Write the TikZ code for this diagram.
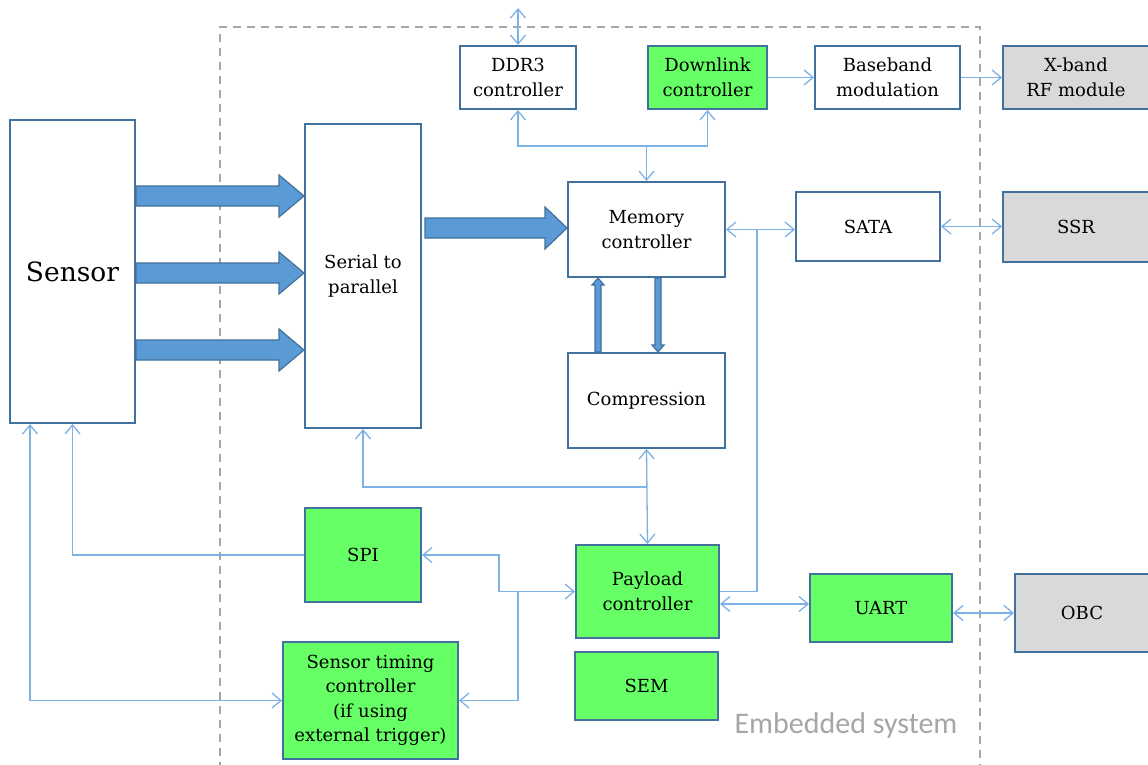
\documentclass[tikz,border=0pt]{standalone}
\usepackage{fontspec}
\setmainfont{DejaVu Serif}
\newfontfamily\labelfont{Carlito}
\usetikzlibrary{arrows.meta,calc}
\definecolor{boxblue}{HTML}{41719C}
\definecolor{linkblue}{HTML}{7EB2E4}
\definecolor{fatfill}{HTML}{5B9BD5}
\definecolor{greenbox}{HTML}{66FF66}
\definecolor{greybox}{HTML}{D9D9D9}
\definecolor{dashgrey}{HTML}{A6A6A6}
\tikzset{
  blk/.style={draw=boxblue, line width=2pt, fill=white, align=center, inner sep=2pt,
    font=\fontsize{18}{24.5}\selectfont},
  grn/.style={blk, fill=greenbox},
  gry/.style={blk, fill=greybox},
  conn/.style={draw=linkblue, line width=1.3pt},
  >={Straight Barb[length=9pt,width=15pt]},
  fatarr/.style={fill=fatfill, draw=boxblue, line width=1.2pt, line join=miter},
}
% horizontal block arrow: start, end, shaft half, head half, head length
\newcommand\fatH[5]{\draw[fatarr] ($(#1)+(0,-#3)$) -- ($(#2)+(-#5,-#3)$) -- ($(#2)+(-#5,-#4)$) -- (#2) -- ($(#2)+(-#5,#4)$) -- ($(#2)+(-#5,#3)$) -- ($(#1)+(0,#3)$) -- cycle;}
% vertical block arrow: start, end, shaft half, head half, signed head length
\newcommand\fatV[5]{\draw[fatarr] ($(#1)+(-#3,0)$) -- ($(#2)+(-#3,#5)$) -- ($(#2)+(-#4,#5)$) -- (#2) -- ($(#2)+(#4,#5)$) -- ($(#2)+(#3,#5)$) -- ($(#1)+(#3,0)$) -- cycle;}
\begin{document}
\begin{tikzpicture}[x=1pt,y=-1pt]
\useasboundingbox[fill=white] (0,0) rectangle (1148,765);
% embedded system frame
\draw[dashgrey, line width=2pt, dash pattern=on 8pt off 6pt] (220,770) -- (220,27) -- (980,27) -- (980,770);
\node[font=\labelfont\fontsize{30}{34}\selectfont, text=dashgrey] (emb) at (846,725) {Embedded system};

% nodes
\node[blk, minimum width=125pt, minimum height=303pt, font=\fontsize{26.5}{30}\selectfont] (sens) at (72.5,271.5) {Sensor};
\node[blk, minimum width=116pt, minimum height=304pt] (stp) at (363,276) {Serial to\\parallel};
\node[blk, minimum width=157pt, minimum height=95pt] (mc) at (646.5,229.5) {Memory\\controller};
\node[blk, minimum width=157pt, minimum height=95pt] (comp) at (646.5,400.5) {Compression};
\node[blk, minimum width=116pt, minimum height=63pt] (ddr) at (518,77.5) {DDR3\\controller};
\node[grn, minimum width=119pt, minimum height=63pt] (dl) at (707.5,77.5) {Downlink\\controller};
\node[blk, minimum width=145pt, minimum height=63pt] (bb) at (887.5,77.5) {Baseband\\modulation};
\node[gry, minimum width=146pt, minimum height=63pt] (xb) at (1076,77.5) {X-band\\RF module};
\node[blk, minimum width=144pt, minimum height=69pt] (sata) at (868,226.5) {SATA};
\node[gry, minimum width=146pt, minimum height=70pt] (ssr) at (1076,227) {SSR};
\node[grn, minimum width=116pt, minimum height=94pt] (spi) at (363,555) {SPI};
\node[grn, minimum width=143pt, minimum height=93pt] (pc) at (647.5,591.5) {Payload\\controller};
\node[grn, minimum width=142pt, minimum height=68pt] (uart) at (881,608) {UART};
\node[gry, minimum width=134pt, minimum height=78pt] (obc) at (1082,613) {OBC};
\node[grn, minimum width=143pt, minimum height=68pt] (sem) at (646.5,686) {SEM};
\node[grn, minimum width=175pt, minimum height=117pt] (stc) at (370.5,700.5) {Sensor timing\\controller\\(if using\\external trigger)};

% block arrows
\coordinate (a1s) at (sens.east|-0,196); \coordinate (a1e) at (stp.west|-0,196);
\coordinate (a2s) at (sens.east|-0,273); \coordinate (a2e) at (stp.west|-0,273);
\coordinate (a3s) at (sens.east|-0,350); \coordinate (a3e) at (stp.west|-0,350);
\coordinate (a4s) at ($(stp.east|-0,228)+(3,0)$); \coordinate (a4e) at (mc.west|-0,228);
\fatH{a1s}{a1e}{10}{21}{25}
\fatH{a2s}{a2e}{10}{21}{25}
\fatH{a3s}{a3e}{10}{21}{25}
\fatH{a4s}{a4e}{10}{21}{22}
\coordinate (u1s) at (comp.north-|598,0); \coordinate (u1e) at (mc.south-|598,0);
\coordinate (d1s) at (mc.south-|658,0); \coordinate (d1e) at (comp.north-|658,0);
\fatV{u1s}{u1e}{3}{6}{7}
\fatV{d1s}{d1e}{3}{6}{-7}

% thin connectors
\coordinate (ddrtop) at (ddr.north|-0,8);
\draw[conn,<->] (ddrtop) -- (ddr.north);
\coordinate (j1) at (mc.north|-0,146);
\draw[conn,<->] (ddr.south) |- (j1) -| (dl.south);
\draw[conn,->] (j1) -- (mc.north);
\draw[conn,->] (dl.east) -- (bb.west|-dl.east);
\draw[conn,->] (bb.east) -- (xb.west|-bb.east);
\draw[conn,<->] (sata.east) -- (ssr.west|-sata.east);
\coordinate (j2) at (757,0);
\draw[conn,<->] (mc.east) -- (sata.west|-mc.east);
\draw[conn] (pc.east) -| (j2|-mc.east);
\draw[conn,<->] (pc.east|-0,604) -- (uart.west|-0,604);
\draw[conn,<->] (uart.east|-obc.west) -- (obc.west);
\coordinate (j3) at (comp.south|-0,487);
\draw[conn,<->] (comp.south) -- (pc.north);
\draw[conn,->] (j3) -| (stp.south);
\coordinate (j4) at (499,0);
\draw[conn,<->] (spi.east) -| (j4|-pc.west) -- (pc.west);
\coordinate (j5) at (518,0);
\draw[conn,->] (j5|-pc.west) |- (stc.east);
\draw[conn,->] (spi.west) -| (sens.south);
\coordinate (j6) at (30,0);
\draw[conn,<->] (j6|-sens.south) |- (stc.west);
\end{tikzpicture}
\end{document}
